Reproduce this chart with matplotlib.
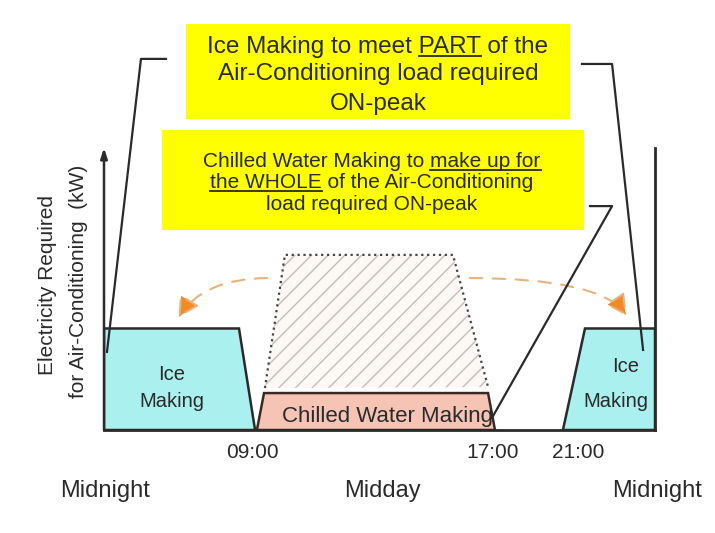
import matplotlib.pyplot as plt
from matplotlib.patches import Polygon, Rectangle, FancyArrowPatch

plt.rcParams['font.family'] = ['Liberation Sans', 'DejaVu Sans']
plt.rcParams['hatch.color'] = '#c9bcb8'
plt.rcParams['hatch.linewidth'] = 1.0

# load profile shapes (x in hours-ish diagram units, y in load units)
ice_am_x = [0, 0, 5.88, 6.58]
ice_am_y = [0, 3.6, 3.6, 0]
ice_pm_x = [19.99, 20.95, 24, 24]
ice_pm_y = [0, 3.6, 3.6, 0]
chw_x = [6.66, 6.97, 16.73, 17.03]
chw_y = [0, 1.31, 1.31, 0]
peak_x = [7.01, 7.88, 15.2, 16.73]
peak_y = [1.49, 6.21, 6.21, 1.52]
x_end = 24
y_top = 10

time_pos = [6.47, 16.92, 20.67]
time_labels = ['09:00', '17:00', '21:00']
day_pos = [0.04, 12.13, 24.09]
day_labels = ['Midnight', 'Midday', 'Midnight']

# callout leader lines
lead_left_x = [2.70, 1.61, 0.13]
lead_left_y = [13.16, 13.16, 2.77]
lead_right_x = [20.82, 22.13, 23.48]
lead_right_y = [12.98, 12.98, 2.84]
lead_chw_x = [21.17, 22.13, 16.9]
lead_chw_y = [7.94, 7.94, 0.43]

# yellow boxes: x0, x1, y0, y1
box1 = [3.57, 20.3, 11.03, 14.40]
box2 = [2.53, 20.91, 7.09, 10.64]
box1_lines = ['Ice Making to meet PART of the', 'Air-Conditioning load required', 'ON-peak']
box1_under = ['PART', None, None]
box1_base = [13.37, 12.41, 11.35]
box2_lines = ['Chilled Water Making to make up for', 'the WHOLE of the Air-Conditioning',
              'load required ON-peak']
box2_under = ['make up for', 'the WHOLE', None]
box2_base = [9.33, 8.58, 7.80]

# shifted-load arrows (start, end)
shift_left = [(7.23, 5.39), (3.18, 3.90)]
shift_right = [(15.81, 5.39), (22.83, 3.97)]

line_c = '#2a2a2a'
txt_c = '#2a2a2a'

fig = plt.figure(figsize=(7.15, 5.33), dpi=100)
ax = fig.add_axes([104 / 715, 103 / 533, 551 / 715, 282 / 533])
ax.set_xlim(0, x_end)
ax.set_ylim(0, y_top)
ax.axis('off')

# yellow boxes
for b in (box1, box2):
    ax.add_patch(Rectangle((b[0], b[2]), b[1] - b[0], b[3] - b[2], facecolor='#ffff00',
                           edgecolor='none', clip_on=False, zorder=1))

# hatched on-peak load
ax.fill(peak_x, peak_y, facecolor='#fcf8f6', edgecolor='#c9bcb8', hatch='//', linewidth=0, zorder=2)
ax.plot(peak_x, peak_y, ls=':', color='#444444', lw=1.6, zorder=3)

# ice making and chilled water
ax.add_patch(Polygon(list(zip(ice_am_x, ice_am_y)), facecolor='#aaf0ef', edgecolor=line_c, lw=1.8, zorder=3))
ax.add_patch(Polygon(list(zip(ice_pm_x, ice_pm_y)), facecolor='#aaf0ef', edgecolor=line_c, lw=1.8, zorder=3))
ax.add_patch(Polygon(list(zip(chw_x, chw_y)), facecolor='#f5c4b4', edgecolor='#3a2a26', lw=1.8, zorder=3))

# axes lines
ax.plot([0, x_end], [0, 0], color=line_c, lw=2, zorder=4, clip_on=False)
ax.plot([x_end, x_end], [0, y_top], color=line_c, lw=2, zorder=4, clip_on=False)
ax.annotate('', xy=(0, y_top), xytext=(0, 0),
            arrowprops=dict(arrowstyle='-|>,head_length=0.6,head_width=0.2', color=line_c, lw=1.8,
                            shrinkA=0, shrinkB=0), annotation_clip=False)

# leaders
for lx, ly in ((lead_left_x, lead_left_y), (lead_right_x, lead_right_y), (lead_chw_x, lead_chw_y)):
    ax.plot(lx, ly, color=line_c, lw=1.6, zorder=5, clip_on=False)

# shifted load arrows
for (p0, p1), ang in ((shift_left, 60), (shift_right, 120)):
    ax.add_patch(FancyArrowPatch(p0, p1, connectionstyle='angle3,angleA=0,angleB=%d' % ang,
                                 arrowstyle='-|>,head_length=0.75,head_width=0.4', mutation_scale=17,
                                 linestyle=(0, (6, 5)), edgecolor='#e9b27c', facecolor='#f08a24',
                                 lw=1.5, zorder=4, clip_on=False))


def put_line(x, y, s, size, under=None):
    t = ax.text(x, y, s, ha='center', va='baseline', fontsize=size, color=txt_c, zorder=6)
    if under:
        r = fig.canvas.get_renderer()
        bb = t.get_window_extent(r)
        prop = t.get_fontproperties()
        i = s.index(under)
        w_end = r.get_text_width_height_descent(s[:i + len(under)], prop, ismath=False)[0]
        w_sub = r.get_text_width_height_descent(under, prop, ismath=False)[0]
        x1 = bb.x0 + w_end
        x0 = x1 - w_sub
        yu = ax.transData.transform((x, y))[1] - 3
        inv = ax.transData.inverted()
        (ux0, uy0), (ux1, uy1) = inv.transform([(x0, yu), (x1, yu)])
        ax.plot([ux0, ux1], [uy0, uy1], color=txt_c, lw=1.3, zorder=6, clip_on=False)


bx1 = (box1[0] + box1[1]) / 2
for s, u, yb in zip(box1_lines, box1_under, box1_base):
    put_line(bx1, yb, s, 17.5, u)
for s, u, yb in zip(box2_lines, box2_under, box2_base):
    put_line(11.67, yb, s, 15, u)

# region labels
put_line(2.96, 1.77, 'Ice', 14.5)
put_line(2.96, 0.82, 'Making', 14.5)
put_line(22.74, 2.06, 'Ice', 14.5)
put_line(22.3, 0.82, 'Making', 14.5)
put_line(12.37, 0.28, 'Chilled Water Making', 16)

for xp, lab in zip(time_pos, time_labels):
    put_line(xp, -0.99, lab, 15)
for xp, lab in zip(day_pos, day_labels):
    put_line(xp, -2.38, lab, 17)

ax.text(-2.44, 5.14, 'Electricity Required', rotation=90, ha='center', va='center',
        fontsize=15, color=txt_c)
ax.text(-1.13, 5.28, 'for Air-Conditioning  (kW)', rotation=90, ha='center', va='center',
        fontsize=15, color=txt_c)

fig.savefig('out.png', dpi=100)
